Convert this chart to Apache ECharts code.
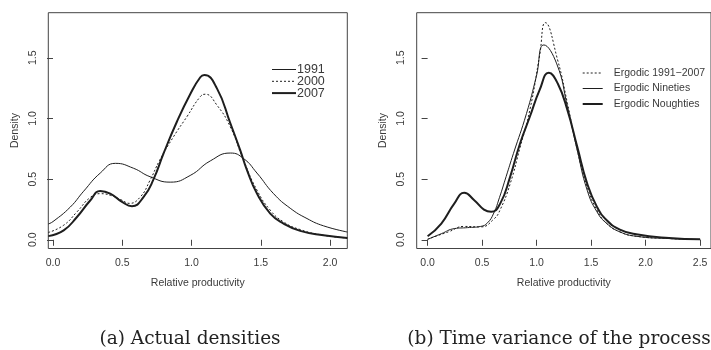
<!DOCTYPE html>
<html lang="en">
<head>
<meta charset="UTF-8">
<title>Relative productivity densities</title>
<script src="https://cdn.jsdelivr.net/npm/echarts@6/dist/echarts.min.js"></script>
<style>
    html, body { margin: 0; padding: 0; background: #fff; }
    #chart { width: 711px; height: 350px; }
</style>
</head>
<body>
<div id="chart"></div>
<script>
    // ---- panel (a) actual densities ----
    var x1991 = [-0.034, 0.0, 0.125, 0.221, 0.341, 0.45, 0.58, 0.70, 0.846, 0.99, 1.135, 1.28, 1.375, 1.472, 1.592, 1.712, 1.833, 1.952, 2.124];
    var y1991 = [0.13, 0.15, 0.27, 0.40, 0.55, 0.63, 0.59, 0.52, 0.475, 0.53, 0.65, 0.715, 0.67, 0.55, 0.38, 0.26, 0.175, 0.115, 0.064];

    var x2000 = [-0.034, 0.077, 0.173, 0.27, 0.341, 0.413, 0.498, 0.55, 0.63, 0.70, 0.77, 0.87, 0.966, 1.063, 1.099, 1.183, 1.28, 1.375, 1.472, 1.568, 1.664, 1.784, 1.952, 2.124];
    var y2000 = [0.06, 0.12, 0.23, 0.35, 0.38, 0.367, 0.326, 0.30, 0.353, 0.49, 0.656, 0.85, 1.014, 1.18, 1.20, 1.11, 0.93, 0.656, 0.409, 0.244, 0.147, 0.084, 0.037, 0.015];

    var x2007 = [-0.034, 0.077, 0.173, 0.27, 0.341, 0.413, 0.498, 0.57, 0.654, 0.726, 0.798, 0.894, 0.99, 1.063, 1.092, 1.183, 1.28, 1.351, 1.40, 1.472, 1.568, 1.664, 1.784, 1.952, 2.124];
    var y2007 = [0.03, 0.078, 0.188, 0.326, 0.403, 0.381, 0.312, 0.277, 0.353, 0.50, 0.712, 0.973, 1.2, 1.34, 1.358, 1.248, 0.96, 0.739, 0.574, 0.381, 0.216, 0.134, 0.073, 0.037, 0.015];

    // ---- panel (b) time variance of the process ----
    var xErg = [0, 0.19, 0.336, 0.487, 0.607, 0.667, 0.757, 0.848, 0.938, 1.028, 1.08, 1.193, 1.283, 1.373, 1.464, 1.554, 1.644, 1.764, 1.914, 2.215, 2.5];
    var yErg = [0.005, 0.065, 0.11, 0.106, 0.17, 0.25, 0.46, 0.76, 1.07, 1.52, 1.79, 1.482, 1.125, 0.739, 0.436, 0.244, 0.134, 0.065, 0.029, 0.01, 0.002];

    var xNineties = [0, 0.126, 0.246, 0.366, 0.487, 0.55, 0.607, 0.66, 0.72, 0.787, 0.907, 0.997, 1.067, 1.185, 1.283, 1.373, 1.464, 1.554, 1.644, 1.764, 1.914, 2.215, 2.5];
    var yNineties = [0.003, 0.05, 0.092, 0.10, 0.11, 0.14, 0.22, 0.35, 0.52, 0.71, 1.04, 1.344, 1.606, 1.45, 1.097, 0.739, 0.409, 0.23, 0.134, 0.065, 0.029, 0.01, 0.002];

    var xNoughties = [0, 0.126, 0.246, 0.336, 0.428, 0.517, 0.583, 0.667, 0.757, 0.848, 0.938, 1.028, 1.112, 1.193, 1.283, 1.373, 1.464, 1.554, 1.644, 1.764, 1.914, 2.215, 2.5];
    var yNoughties = [0.029, 0.134, 0.30, 0.387, 0.326, 0.249, 0.23, 0.30, 0.519, 0.794, 1.014, 1.235, 1.377, 1.29, 1.069, 0.766, 0.464, 0.271, 0.161, 0.084, 0.045, 0.015, 0.005];

    // tick labels
    var xTicksA = [0, 0.5, 1, 1.5, 2];
    var xTicksB = [0, 0.5, 1, 1.5, 2, 2.5];
    var yTicks = [0, 0.5, 1, 1.5];

    var namesA = ['1991', '2000', '2007'];
    var namesB = ['Ergodic 1991\u22122007', 'Ergodic Nineties', 'Ergodic Noughties'];

    var ink = '#1e1e1e';
    var txt = '#3a3a3a';
    var sans = 'Liberation Sans, Arial, sans-serif';
    var serif = '18.5px "DejaVu Serif", serif';
    var dots = [2, 2];

    function pairs(xs, ys) {
        return xs.map(function (x, i) { return [x, ys[i]]; });
    }
    function fmt(v) { return v.toFixed(1); }

    function xAxisFor(idx, min, max, ticks) {
        return {
            type: 'value', gridIndex: idx, min: min, max: max,
            name: 'Relative productivity', nameLocation: 'middle', nameGap: 29,
            nameTextStyle: { color: txt, fontSize: 10.5, fontFamily: sans },
            axisLine: { show: false },
            axisTick: { show: true, inside: false, length: 6, customValues: ticks, lineStyle: { color: '#444' } },
            axisLabel: { customValues: ticks, formatter: fmt, color: txt, fontSize: 10.5, fontFamily: sans, margin: 9 },
            splitLine: { show: false }
        };
    }
    function yAxisFor(idx) {
        return {
            type: 'value', gridIndex: idx, min: -0.072, max: 1.872,
            name: 'Density', nameLocation: 'middle', nameGap: 28,
            nameTextStyle: { color: txt, fontSize: 10.5, fontFamily: sans },
            axisLine: { show: false },
            axisTick: { show: true, length: 6, customValues: yTicks, lineStyle: { color: '#444' } },
            axisLabel: { customValues: yTicks, formatter: fmt, rotate: 90, color: txt, fontSize: 10.5, fontFamily: sans, margin: 10 },
            splitLine: { show: false }
        };
    }
    function line(name, data, idx, width, type) {
        return {
            name: name, type: 'line', xAxisIndex: idx, yAxisIndex: idx,
            data: data, showSymbol: false, symbol: 'none',
            smooth: 0.5,
            lineStyle: { color: ink, width: width, type: type },
            itemStyle: { color: ink },
            emphasis: { disabled: true }
        };
    }
    function legendItem(name, width, type) {
        return { name: name, lineStyle: { width: width, type: type, color: ink } };
    }

    var chart = echarts.init(document.getElementById('chart'));
    chart.setOption({
        animation: false,
        backgroundColor: '#fff',
        grid: [
            { left: 48.3, top: 12.7, width: 299, height: 235.8, show: true, borderColor: '#444', borderWidth: 1, backgroundColor: 'transparent' },
            { left: 416.7, top: 12.7, width: 299.4, height: 235.8, show: true, borderColor: '#444', borderWidth: 1, backgroundColor: 'transparent' }
        ],
        xAxis: [xAxisFor(0, -0.034, 2.124, xTicksA), xAxisFor(1, -0.1, 2.6, xTicksB)],
        yAxis: [yAxisFor(0), yAxisFor(1)],
        legend: [
            {
                data: [legendItem(namesA[0], 1, 'solid'), legendItem(namesA[1], 1, dots), legendItem(namesA[2], 2, 'solid')],
                orient: 'vertical', left: 271, top: 63, padding: 0,
                itemWidth: 24, itemHeight: 11, itemGap: -1.2,
                itemStyle: { opacity: 0 },
                textStyle: { color: txt, fontSize: 12.5, fontFamily: sans, lineHeight: 11, padding: [0, 0, 0, -4] },
                selectedMode: false
            },
            {
                data: [legendItem(namesB[0], 1, dots), legendItem(namesB[1], 1, 'solid'), legendItem(namesB[2], 2, 'solid')],
                orient: 'vertical', left: 581.7, top: 66, padding: 0,
                itemWidth: 20, itemHeight: 14, itemGap: 1.5,
                itemStyle: { opacity: 0 },
                textStyle: { color: txt, fontSize: 10.5, fontFamily: sans, lineHeight: 14, padding: [0, 0, 0, 6] },
                selectedMode: false
            }
        ],
        graphic: [
            { type: 'text', x: 190, y: 339, style: { text: '(a) Actual densities', font: serif, fill: '#222', align: 'center', verticalAlign: 'middle' } },
            { type: 'text', x: 559, y: 339, style: { text: '(b) Time variance of the process', font: serif, fill: '#222', align: 'center', verticalAlign: 'middle' } }
        ],
        series: [
            line(namesA[0], pairs(x1991, y1991), 0, 1, 'solid'),
            line(namesA[1], pairs(x2000, y2000), 0, 1, dots),
            line(namesA[2], pairs(x2007, y2007), 0, 2, 'solid'),
            line(namesB[0], pairs(xErg, yErg), 1, 1, dots),
            line(namesB[1], pairs(xNineties, yNineties), 1, 1, 'solid'),
            line(namesB[2], pairs(xNoughties, yNoughties), 1, 2, 'solid')
        ]
    });
</script>
</body>
</html>
